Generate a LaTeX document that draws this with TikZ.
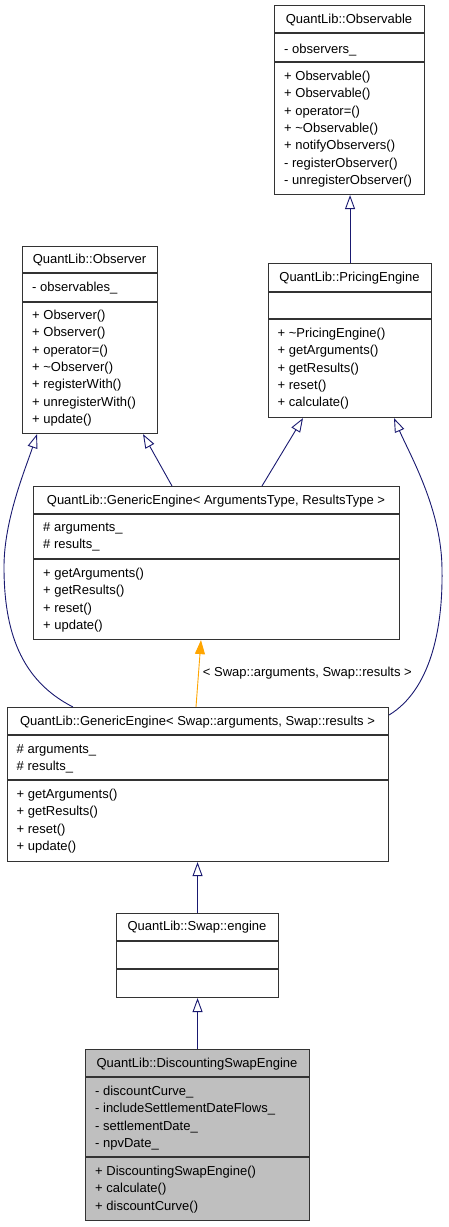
\documentclass[tikz,border=0pt]{standalone}
\usepackage{fontspec}
\setmainfont{Liberation Sans}
\usetikzlibrary{arrows.meta}
\definecolor{edgeblue}{HTML}{191970}
\definecolor{edgeorange}{HTML}{FFA500}
\definecolor{boxgray}{HTML}{BFBFBF}
\definecolor{boxline}{HTML}{333333}
\tikzset{
  umlbox/.style={draw=boxline, line width=1.1pt, rectangle, inner sep=0pt, anchor=north west},
  sepline/.style={draw=boxline, line width=1.1pt},
  txt/.style={inner sep=0pt, anchor=base west, font=\fontsize{13}{15}\selectfont},
  ttl/.style={inner sep=0pt, anchor=base, font=\fontsize{13}{15}\selectfont},
  inherit/.style={draw=edgeblue, line width=0.9pt, -{Triangle[open, length=14pt, width=10pt, fill=white]}},
  templ/.style={draw=edgeorange, line width=0.9pt, -{Triangle[length=14pt, width=10pt, fill=edgeorange]}},
}
\begin{document}
\begin{tikzpicture}[x=1pt,y=-1pt]
\useasboundingbox (0,0) rectangle (448,1227);
% Observable
\node[umlbox, minimum width=150pt, minimum height=189pt] (obs) at (274,5) {};
\draw[sepline] (274,33) -- (424,33);
\draw[sepline] (274,62) -- (424,62);
\node[ttl] (obs-t) at (349,23) {QuantLib::Observable};
\node[txt] (obs-a1) at (284,53.5) {- observers\_};
\node[txt] (obs-m1) at (284,80.5) {+ Observable()};
\node[txt] (obs-m2) at (284,97.8) {+ Observable()};
\node[txt] (obs-m3) at (284,115.1) {+ operator=()};
\node[txt] (obs-m4) at (284,132.4) {+ \textasciitilde Observable()};
\node[txt] (obs-m5) at (284,149.7) {+ notifyObservers()};
\node[txt] (obs-m6) at (284,167.0) {- registerObserver()};
\node[txt] (obs-m7) at (284,184.3) {- unregisterObserver()};
% Observer
\node[umlbox, minimum width=135pt, minimum height=187pt] (obsr) at (22,246) {};
\draw[sepline] (22,273) -- (157,273);
\draw[sepline] (22,302) -- (157,302);
\node[ttl] (obsr-t) at (89.5,263) {QuantLib::Observer};
\node[txt] (obsr-a1) at (32,291.5) {- observables\_};
\node[txt] (obsr-m1) at (32,319.5) {+ Observer()};
\node[txt] (obsr-m2) at (32,336.8) {+ Observer()};
\node[txt] (obsr-m3) at (32,354.1) {+ operator=()};
\node[txt] (obsr-m4) at (32,371.4) {+ \textasciitilde Observer()};
\node[txt] (obsr-m5) at (32,388.7) {+ registerWith()};
\node[txt] (obsr-m6) at (32,406.0) {+ unregisterWith()};
\node[txt] (obsr-m7) at (32,423.3) {+ update()};
% PricingEngine
\node[umlbox, minimum width=163pt, minimum height=154pt] (pe) at (268,263) {};
\draw[sepline] (268,292) -- (431,292);
\draw[sepline] (268,319) -- (431,319);
\node[ttl] (pe-t) at (349.5,281) {QuantLib::PricingEngine};
\node[txt] (pe-m1) at (277.5,337.5) {+ \textasciitilde PricingEngine()};
\node[txt] (pe-m2) at (277.5,354.8) {+ getArguments()};
\node[txt] (pe-m3) at (277.5,372.1) {+ getResults()};
\node[txt] (pe-m4) at (277.5,389.4) {+ reset()};
\node[txt] (pe-m5) at (277.5,406.7) {+ calculate()};
% GenericEngine<ArgumentsType, ResultsType>
\node[umlbox, minimum width=366pt, minimum height=153pt] (ge) at (33,486) {};
\draw[sepline] (33,514) -- (399,514);
\draw[sepline] (33,559) -- (399,559);
\node[ttl] (ge-t) at (216,504) {QuantLib::GenericEngine< ArgumentsType, ResultsType >};
\node[txt] (ge-a1) at (43,531.5) {\# arguments\_};
\node[txt] (ge-a2) at (43,548.8) {\# results\_};
\node[txt] (ge-m1) at (43,577.5) {+ getArguments()};
\node[txt] (ge-m2) at (43,594.8) {+ getResults()};
\node[txt] (ge-m3) at (43,612.1) {+ reset()};
\node[txt] (ge-m4) at (43,629.4) {+ update()};
% GenericEngine<Swap::arguments, Swap::results>
\node[umlbox, minimum width=381pt, minimum height=154pt] (gs) at (7,707) {};
\draw[sepline] (7,735) -- (388,735);
\draw[sepline] (7,780) -- (388,780);
\node[ttl] (gs-t) at (197.5,725.5) {QuantLib::GenericEngine< Swap::arguments, Swap::results >};
\node[txt] (gs-a1) at (16.5,753.5) {\# arguments\_};
\node[txt] (gs-a2) at (16.5,770.8) {\# results\_};
\node[txt] (gs-m1) at (16.5,798.5) {+ getArguments()};
\node[txt] (gs-m2) at (16.5,815.8) {+ getResults()};
\node[txt] (gs-m3) at (16.5,833.1) {+ reset()};
\node[txt] (gs-m4) at (16.5,850.4) {+ update()};
% Swap::engine
\node[umlbox, minimum width=162pt, minimum height=84pt] (se) at (116,913) {};
\draw[sepline] (116,941) -- (278,941);
\draw[sepline] (116,969) -- (278,969);
\node[ttl] (se-t) at (197,930.5) {QuantLib::Swap::engine};
% DiscountingSwapEngine
\node[umlbox, fill=boxgray, minimum width=224pt, minimum height=171pt] (dse) at (85,1049) {};
\draw[sepline] (85,1077) -- (309,1077);
\draw[sepline] (85,1157) -- (309,1157);
\node[ttl] (dse-t) at (197,1067.5) {QuantLib::DiscountingSwapEngine};
\node[txt] (dse-a1) at (95,1095.5) {- discountCurve\_};
\node[txt] (dse-a2) at (95,1112.8) {- includeSettlementDateFlows\_};
\node[txt] (dse-a3) at (95,1130.1) {- settlementDate\_};
\node[txt] (dse-a4) at (95,1147.4) {- npvDate\_};
\node[txt] (dse-m1) at (95,1175.5) {+ DiscountingSwapEngine()};
\node[txt] (dse-m2) at (95,1192.8) {+ calculate()};
\node[txt] (dse-m3) at (95,1210.1) {+ discountCurve()};
% edges
\draw[inherit] (pe.north) -- (pe.north |- obs.south);
\draw[inherit] ([xshift=139pt]ge.north west) -- ([xshift=121pt]obsr.south west);
\draw[inherit] ([xshift=229pt]ge.north west) -- ([xshift=35pt]pe.south west);
\draw[inherit] ([xshift=66pt]gs.north west) .. controls (20,680) and (4,630) .. (4,567)
   .. controls (4,520) and (25,470) .. ([xshift=15pt]obsr.south west);
\draw[inherit] ([yshift=-8pt]gs.north east) .. controls (430,690) and (443,630) .. (442,570)
   .. controls (442,510) and (410,455) .. ([xshift=126pt]pe.south west);
\draw[templ] ([xshift=189pt]gs.north west) -- node[right=4pt, inner sep=0pt, font=\fontsize{13}{15}\selectfont] (lbl) {< Swap::arguments, Swap::results >} ([xshift=168pt]ge.south west);
\draw[inherit] (se.north) -- (se.north |- gs.south);
\draw[inherit] (dse.north) -- (dse.north |- se.south);
\end{tikzpicture}
\end{document}
